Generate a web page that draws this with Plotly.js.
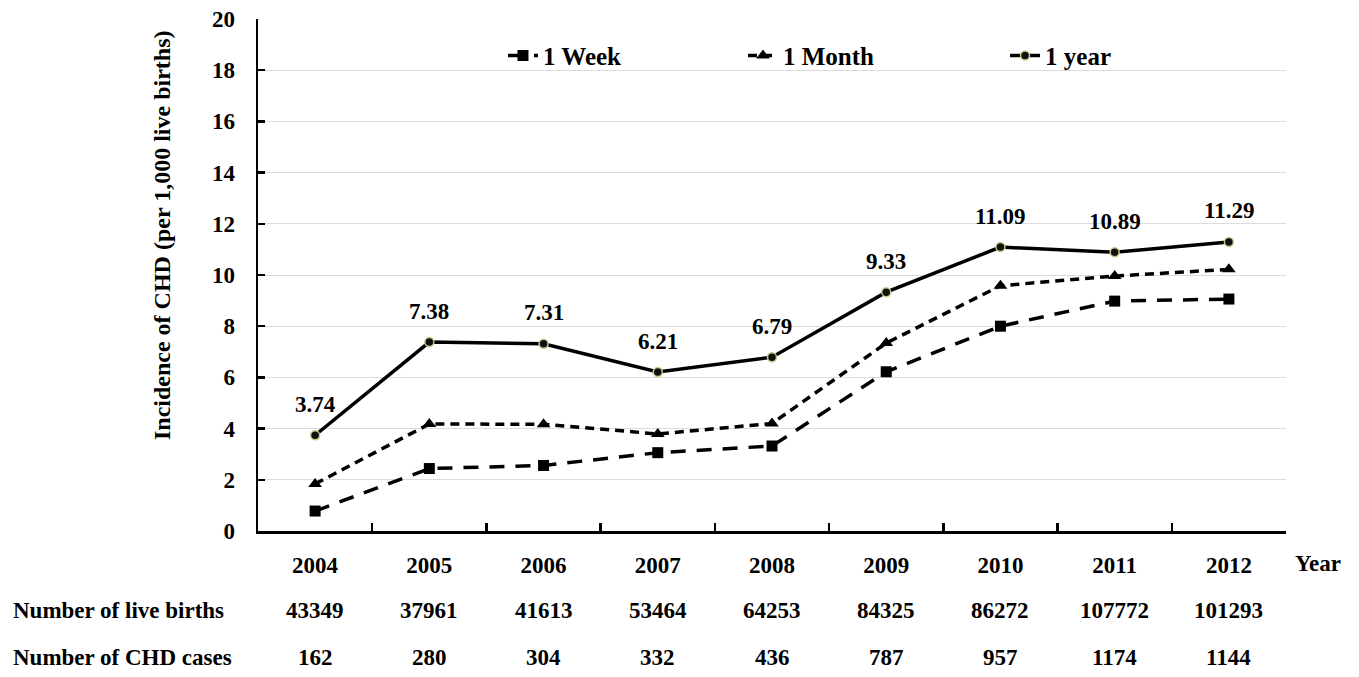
<!DOCTYPE html>
<html>
<head>
<meta charset="utf-8">
<script src="https://cdn.plot.ly/plotly-3.0.1.min.js"></script>
<style>
html,body{margin:0;padding:0;background:#fff;}
#chart{width:1359px;height:677px;}
</style>
</head>
<body>
<div id="chart"></div>
<script>
const years = ['2004','2005','2006','2007','2008','2009','2010','2011','2012'];
const week = [0.78, 2.44, 2.56, 3.06, 3.32, 6.22, 8.0, 8.98, 9.06];
const month = [1.84, 4.18, 4.17, 3.79, 4.2, 7.34, 9.58, 9.96, 10.22];
const year1 = [3.74, 7.38, 7.31, 6.21, 6.79, 9.33, 11.09, 10.89, 11.29];
const liveBirths = ['43349','37961','41613','53464','64253','84325','86272','107772','101293'];
const chdCases = ['162','280','304','332','436','787','957','1174','1144'];
const yTicks = [0,2,4,6,8,10,12,14,16,18,20];

const FONT = 'Liberation Serif';
const FS = 23;

const traces = [
  {x: years, y: week, name: '1 Week', type: 'scatter', mode: 'lines+markers', legend: 'legend',
   line: {color: '#000', width: 3.5, dash: '15px,11px'},
   marker: {symbol: 'square', size: 11, color: '#000'}},
  {x: years, y: month, name: '1 Month', type: 'scatter', mode: 'lines+markers', legend: 'legend2',
   line: {color: '#000', width: 3.5, dash: '9px,6px'},
   marker: {symbol: 'triangle-up', size: 12, color: '#000'}},
  {x: years, y: year1, name: '1 year', type: 'scatter', mode: 'lines+markers', legend: 'legend3',
   line: {color: '#000', width: 3.5},
   marker: {symbol: 'circle', size: 9, color: '#111', line: {color: '#c9c98a', width: 1.5}}}
];

const txt = (s) => '<b>' + s + '</b>';
const annotations = [];
years.forEach((yr, i) => {
  annotations.push({x: i, y: year1[i], xref: 'x', yref: 'y', text: txt(year1[i].toFixed(2)),
    showarrow: false, yshift: 31, xanchor: 'center', yanchor: 'middle',
    font: {family: FONT, size: FS, color: '#000'}});
  annotations.push({x: i, y: -0.156, xref: 'x', yref: 'paper', text: txt(liveBirths[i]),
    showarrow: false, xanchor: 'center', yanchor: 'middle',
    font: {family: FONT, size: FS, color: '#000'}});
  annotations.push({x: i, y: -0.248, xref: 'x', yref: 'paper', text: txt(chdCases[i]),
    showarrow: false, xanchor: 'center', yanchor: 'middle',
    font: {family: FONT, size: FS, color: '#000'}});
});
annotations.push({x: -0.240, y: -0.156, xref: 'paper', yref: 'paper', xanchor: 'left', yanchor: 'middle',
  text: txt('Number of live births'), showarrow: false, font: {family: FONT, size: FS, color: '#000'}});
annotations.push({x: -0.240, y: -0.248, xref: 'paper', yref: 'paper', xanchor: 'left', yanchor: 'middle',
  text: txt('Number of CHD cases'), showarrow: false, font: {family: FONT, size: FS, color: '#000'}});
annotations.push({x: 1.031, y: -0.0625, xref: 'paper', yref: 'paper', xanchor: 'center', yanchor: 'middle',
  text: txt('Year'), showarrow: false, font: {family: FONT, size: FS, color: '#000'}});
annotations.push({x: -0.0934, y: 0.578, xref: 'paper', yref: 'paper', xanchor: 'center', yanchor: 'middle',
  textangle: -90, text: txt('Incidence of CHD (per 1,000 live births)'), showarrow: false,
  font: {family: FONT, size: 24, color: '#000'}});

const legendBase = (x) => ({orientation: 'h', x: x, y: 0.928, xanchor: 'left', yanchor: 'middle',
  font: {family: FONT, size: 25, color: '#000', weight: 'bold'},
  itemwidth: 30, bgcolor: 'rgba(0,0,0,0)'});

const layout = {
  width: 1359, height: 677,
  margin: {l: 258, r: 73, t: 19, b: 146},
  paper_bgcolor: '#fff', plot_bgcolor: '#fff',
  font: {family: FONT, color: '#000'},
  showlegend: true,
  legend: legendBase(0.2383),
  legend2: legendBase(0.4718),
  legend3: legendBase(0.7267),
  xaxis: {type: 'category', range: [-0.5, 8.5], showgrid: false, showline: true,
    linecolor: '#000', linewidth: 2.5, ticks: 'inside', ticklen: 8, tickwidth: 2.5,
    tickcolor: '#000', tickson: 'boundaries', zeroline: false,
    tickfont: {family: FONT, size: FS, color: '#000', weight: 'bold'}, ticklabelstandoff: 12},
  yaxis: {range: [0, 20], tickvals: yTicks, showgrid: true, gridcolor: '#dcdcdc', gridwidth: 1,
    showline: true, linecolor: '#000', linewidth: 2.5, ticks: 'inside', ticklen: 7,
    tickwidth: 2.5, tickcolor: '#000', zeroline: false, ticklabelstandoff: 16,
    tickfont: {family: FONT, size: FS, color: '#000', weight: 'bold'}},
  annotations: annotations
};

Plotly.newPlot('chart', traces, layout, {displayModeBar: false, staticPlot: true});
</script>
</body>
</html>
